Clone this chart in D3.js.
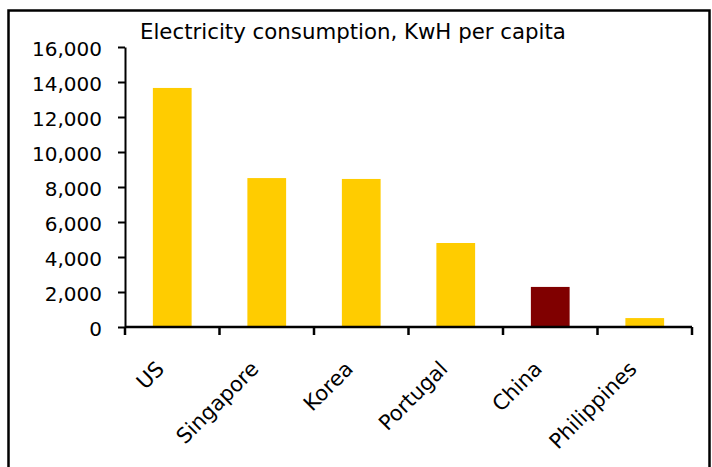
<!DOCTYPE html>
<html>
<head>
<meta charset="utf-8">
<script src="https://cdn.jsdelivr.net/npm/d3@7"></script>
<style>
  html, body { margin: 0; padding: 0; background: #fff; }
  svg { display: block; font-family: "DejaVu Sans", Verdana, sans-serif; }
</style>
</head>
<body>
<svg id="chart" width="712" height="467"></svg>
<script>
const countries = ["US", "Singapore", "Korea", "Portugal", "China", "Philippines"];
const kwhPerCapita = [13660, 8510, 8460, 4800, 2290, 510];
const highlight = ["China"];
const yTicks = [0, 2000, 4000, 6000, 8000, 10000, 12000, 14000, 16000];
const chartTitle = "Electricity consumption, KwH per capita";

(function () {
  const svg = d3.select("#chart");
  const plotLeft = 125, plotRight = 692, plotTop = 47, plotBottom = 327;

  // frame around the chart
  svg.append("rect")
    .attr("x", 8.5).attr("y", 10.5)
    .attr("width", 701).attr("height", 480)
    .attr("fill", "#fff").attr("stroke", "#000").attr("stroke-width", 2.5);

  const x = d3.scaleBand().domain(countries).range([plotLeft, plotRight]).paddingInner(0.59).paddingOuter(0.295);
  const xb = d3.scaleBand().domain(countries).range([plotLeft, plotRight]);
  const y = d3.scaleLinear().domain([0, 16000]).range([plotBottom, plotTop]);

  const data = countries.map((c, i) => ({ c, v: kwhPerCapita[i] }));

  svg.append("g").selectAll("rect").data(data).join("rect")
    .attr("x", d => x(d.c))
    .attr("width", x.bandwidth())
    .attr("y", d => y(d.v))
    .attr("height", d => y(0) - y(d.v))
    .attr("fill", d => highlight.includes(d.c) ? "#800000" : "#FFCC00");

  // y axis
  const yAxis = svg.append("g").attr("transform", `translate(${plotLeft},0)`)
    .call(d3.axisLeft(y).tickValues(yTicks).tickFormat(d3.format(",")).tickSize(7).tickSizeOuter(0).tickPadding(16));
  yAxis.select(".domain").attr("stroke", "#000").attr("stroke-width", 2);
  yAxis.selectAll(".tick line").attr("stroke", "#000").attr("stroke-width", 2);
  yAxis.selectAll("text")
    .attr("font-size", 20).attr("dy", "0.4em")
    .attr("fill", "#000").attr("font-family", "DejaVu Sans, Verdana, sans-serif");

  // x axis: ticks at band boundaries
  const xg = svg.append("g").attr("transform", `translate(0,${plotBottom})`);
  xg.append("line").attr("x1", plotLeft).attr("x2", plotRight).attr("stroke", "#000").attr("stroke-width", 2.5);
  const bounds = countries.map(c => xb(c)).concat([plotRight]);
  xg.selectAll("line.tk").data(bounds).join("line").attr("class", "tk")
    .attr("x1", d => d).attr("x2", d => d).attr("y1", 0).attr("y2", 8)
    .attr("stroke", "#000").attr("stroke-width", 2.5);
  xg.selectAll("text").data(countries).join("text")
    .attr("transform", d => `translate(${xb(d) + xb.bandwidth() / 2 - 12},${38}) rotate(-45)`)
    .attr("text-anchor", "end")
    .attr("dy", "0.35em")
    .attr("font-size", 21)
    .attr("fill", "#000")
    .text(d => d);

  svg.append("text")
    .attr("x", 140).attr("y", 39)
    .attr("font-size", 21.3)
    .attr("fill", "#000")
    .text(chartTitle);
})();
</script>
</body>
</html>
